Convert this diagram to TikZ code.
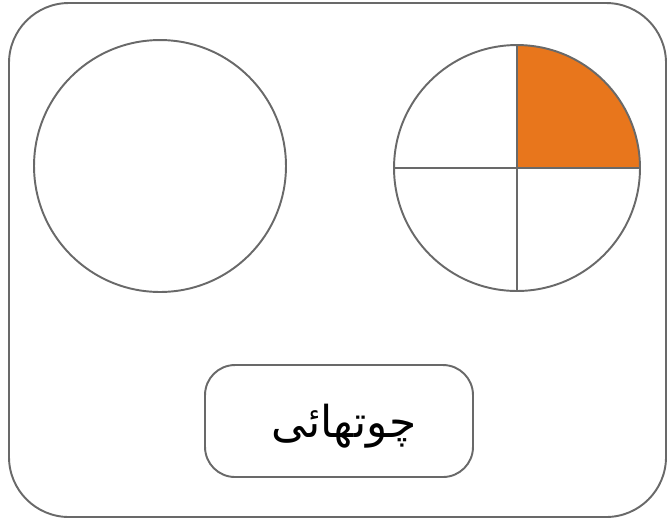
\documentclass[tikz,border=0pt]{standalone}
\usepackage{fontspec}
\TeXXeTstate=1
\newfontfamily\arabicfont[Script=Arabic]{DejaVu Sans}
\usetikzlibrary{positioning}
\definecolor{rim}{RGB}{105,105,105}
\definecolor{tangerine}{RGB}{232,118,28}
\tikzset{
  frame/.style={draw=rim,line width=1.1pt,rounded corners=1.2cm},
  disc/.style={circle,draw=rim,line width=1.1pt,minimum size=#1,inner sep=0pt,outer sep=0pt},
  disc/.default=5cm,
  namebox/.style={draw=rim,line width=1.1pt,rounded corners=0.6cm,
    minimum width=5.36cm,minimum height=2.24cm,inner sep=0pt},
  cut/.style={draw=rim,line width=1.1pt},
}

\begin{document}
\begin{tikzpicture}[x=0.02cm,y=-0.02cm]
    \useasboundingbox (0,0) rectangle (671,522);
    % card
    \draw[frame] (9,3) rectangle (666,517);
    % whole circle
    \node[disc=5.04cm] (whole) at (160,166) {};
    % quartered circle
    \fill[tangerine] (517,168) -- ++(2.46cm,0) arc[start angle=0,end angle=90,radius=2.46cm] -- cycle;
    \node[disc=4.92cm] (part) at (517,168) {};
    \draw[cut] (part.north) -- (part.south);
    \draw[cut] (part.west) -- (part.east);
    % name
    \node[namebox] (name) at (339,421) {};
    \node[font=\arabicfont\fontsize{25}{28}\selectfont] (word) at ([xshift=1mm,yshift=-1mm]name.center) {\beginR چوتھائی\endR};
\end{tikzpicture}
\end{document}
